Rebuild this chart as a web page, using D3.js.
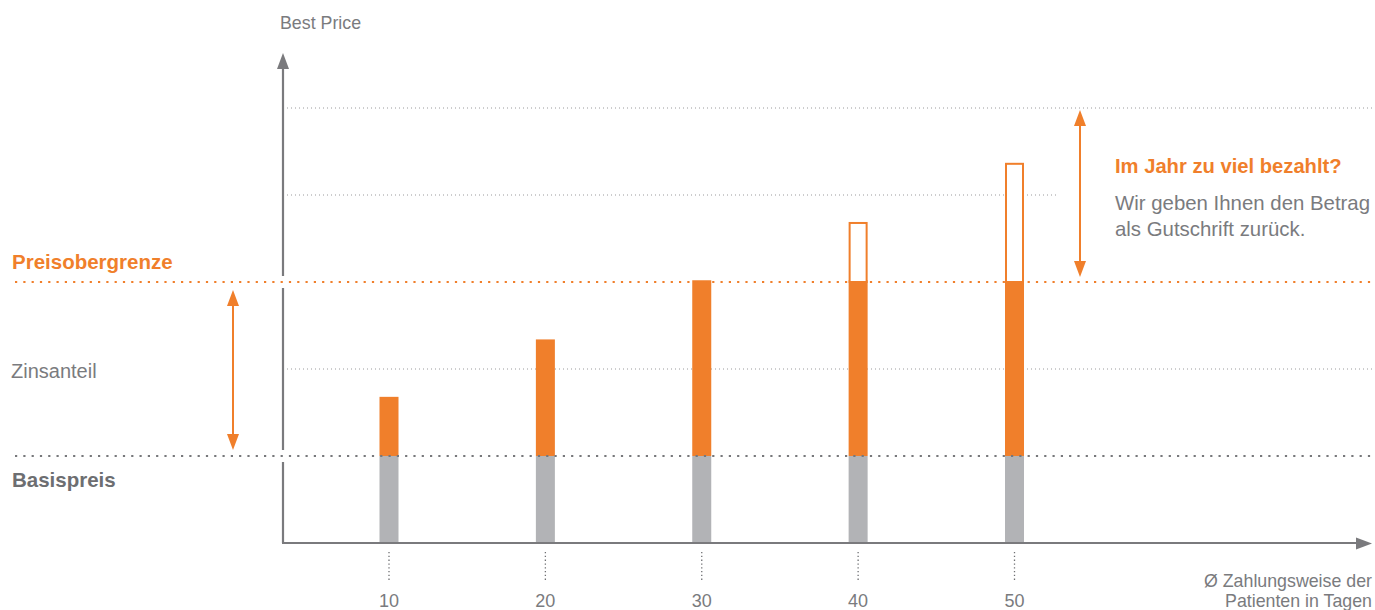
<!DOCTYPE html>
<html><head><meta charset="utf-8">
<script src="https://cdn.jsdelivr.net/npm/d3@7"></script>
<style>
html,body{margin:0;padding:0;background:#fff;}
svg text{font-family:"Liberation Sans",Arial,sans-serif;}
</style></head>
<body><svg id="c" width="1375" height="610"></svg>
<script>
// ---- data ----
const categories = [10, 20, 30, 40, 50];          // Ø Zahlungsweise (Tage)
const basePrice  = [1, 1, 1, 1, 1];               // Basispreis (grey)
const totalPrice = [1.68, 2.34, 3.02, 3.69, 4.37]; // Basis + Zinsanteil
const priceCap   = 3;                             // Preisobergrenze
const gridValues = [2, 4, 5];                     // light dotted guides
const tickLabels = ["10", "20", "30", "40", "50"];

const ORANGE = "#f07f2b", BARGREY = "#b2b3b6", AXIS = "#7a7a7d", TXT = "#7a7b7e";

const svg = d3.select("#c");
const x = d3.scaleLinear().domain([10, 50]).range([389, 1014.5]);
const y = d3.scaleLinear().domain([0, 5]).range([543, 108]);
const barW = 19;

// light grid lines
const gridEnds = {2: 1372, 4: 1058, 5: 1372};
svg.selectAll("line.grid").data(gridValues).join("line")
  .attr("x1", 287).attr("x2", d => gridEnds[d])
  .attr("y1", d => y(d)).attr("y2", d => y(d))
  .attr("stroke", "#9a9a9c").attr("stroke-width", 1).attr("stroke-dasharray", "1,3");

// y axis
svg.append("line").attr("x1", 283).attr("x2", 283).attr("y1", y(0)).attr("y2", 68)
  .attr("stroke", AXIS).attr("stroke-width", 2.2);
svg.append("path").attr("d", "M283,53 L277,69 L289,69 Z").attr("fill", AXIS);
[1, priceCap].forEach(v => {
  svg.append("rect").attr("x", 279).attr("y", y(v) - 6).attr("width", 8).attr("height", 12).attr("fill", "#fff");
});

// bars: grey base
svg.selectAll("rect.base").data(categories).join("rect")
  .attr("x", d => x(d) - barW / 2).attr("width", barW)
  .attr("y", (d, i) => y(basePrice[i])).attr("height", (d, i) => y(0) - y(basePrice[i]))
  .attr("fill", BARGREY);
// orange interest part (up to cap)
svg.selectAll("rect.int").data(categories).join("rect")
  .attr("x", d => x(d) - barW / 2).attr("width", barW)
  .attr("y", (d, i) => y(Math.min(totalPrice[i], priceCap + 0.02)))
  .attr("height", (d, i) => y(basePrice[i]) - y(Math.min(totalPrice[i], priceCap + 0.02)))
  .attr("fill", ORANGE);
// outlined excess part
const over = categories.map((c, i) => ({c, v: totalPrice[i]})).filter(d => d.v > priceCap + 0.1);
svg.selectAll("rect.over").data(over).join("rect")
  .attr("x", d => x(d.c) - barW / 2 + 1).attr("width", barW - 2)
  .attr("y", d => y(d.v) + 1).attr("height", d => y(priceCap) - y(d.v) - 1)
  .attr("fill", "#fff").attr("stroke", ORANGE).attr("stroke-width", 2);

// strong dotted lines
svg.append("line").attr("x1", 15).attr("x2", 1372).attr("y1", y(priceCap)).attr("y2", y(priceCap))
  .attr("stroke", ORANGE).attr("stroke-width", 2.2).attr("stroke-dasharray", "2.2,6.1");
svg.append("line").attr("x1", 15).attr("x2", 1372).attr("y1", y(1)).attr("y2", y(1))
  .attr("stroke", "#77787b").attr("stroke-width", 2.2).attr("stroke-dasharray", "2.2,6.1");

// x axis
svg.append("line").attr("x1", 282).attr("x2", 1358).attr("y1", y(0)).attr("y2", y(0))
  .attr("stroke", AXIS).attr("stroke-width", 2.2);
svg.append("path").attr("d", "M1372,543.5 L1356,537.5 L1356,549.5 Z").attr("fill", AXIS);

// x ticks (dotted) and labels
svg.selectAll("line.tick").data(categories).join("line")
  .attr("x1", d => x(d)).attr("x2", d => x(d)).attr("y1", 552).attr("y2", 582)
  .attr("stroke", "#6f7073").attr("stroke-width", 1.3).attr("stroke-dasharray", "1.3,2.5");
svg.selectAll("text.tl").data(categories).join("text")
  .attr("x", d => x(d)).attr("y", 607).attr("text-anchor", "middle")
  .attr("font-size", 18).attr("fill", TXT).text((d, i) => tickLabels[i]);

// double arrows
function dblArrow(cx, y1, y2) {
  svg.append("line").attr("x1", cx).attr("x2", cx).attr("y1", y1 + 14).attr("y2", y2 - 14)
    .attr("stroke", ORANGE).attr("stroke-width", 2);
  svg.append("path").attr("d", `M${cx},${y1} L${cx-6},${y1+16} L${cx+6},${y1+16} Z`).attr("fill", ORANGE);
  svg.append("path").attr("d", `M${cx},${y2} L${cx-6},${y2-16} L${cx+6},${y2-16} Z`).attr("fill", ORANGE);
}
dblArrow(233, 290, 450);
dblArrow(1080, 110, 277);

// texts
svg.append("text").attr("x", 280).attr("y", 29).attr("font-size", 17.8).attr("fill", TXT).text("Best Price");
svg.append("text").attr("x", 12).attr("y", 269).attr("font-size", 20.5).attr("font-weight", "bold").attr("fill", ORANGE).text("Preisobergrenze");
svg.append("text").attr("x", 11).attr("y", 378).attr("font-size", 20).attr("fill", TXT).text("Zinsanteil");
svg.append("text").attr("x", 12).attr("y", 487).attr("font-size", 20.5).attr("font-weight", "bold").attr("fill", "#6d6e71").text("Basispreis");
svg.append("text").attr("x", 1115).attr("y", 173).attr("font-size", 20.2).attr("font-weight", "bold").attr("fill", ORANGE).text("Im Jahr zu viel bezahlt?");
svg.append("text").attr("x", 1115).attr("y", 210).attr("font-size", 20.4).attr("fill", TXT).text("Wir geben Ihnen den Betrag");
svg.append("text").attr("x", 1115).attr("y", 236).attr("font-size", 20.4).attr("fill", TXT).text("als Gutschrift zurück.");
svg.append("text").attr("x", 1372).attr("y", 587).attr("font-size", 17.8).attr("text-anchor", "end").attr("fill", TXT).text("Ø Zahlungsweise der");
svg.append("text").attr("x", 1372).attr("y", 607).attr("font-size", 17.8).attr("text-anchor", "end").attr("fill", TXT).text("Patienten in Tagen");
</script></body></html>
